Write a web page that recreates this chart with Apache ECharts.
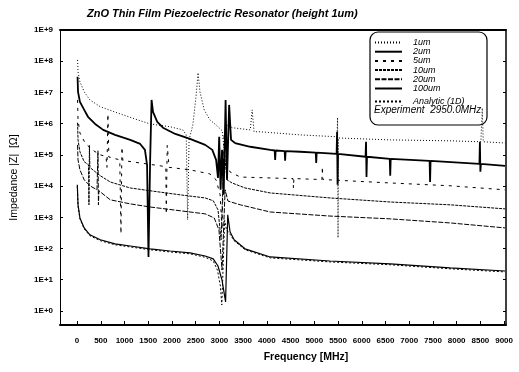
<!DOCTYPE html>
<html>
<head>
<meta charset="utf-8">
<script src="https://cdn.jsdelivr.net/npm/echarts@6/dist/echarts.min.js"></script>
<style>
  html, body { margin: 0; padding: 0; background: #fff; }
  #chart { width: 519px; height: 372px; }
</style>
</head>
<body>
<div id="chart"></div>
<script>
// frequency in MHz, impedance as log10 |Z|
const xTicks = [0, 500, 1000, 1500, 2000, 2500, 3000, 3500, 4000, 4500, 5000, 5500, 6000, 6500, 7000, 7500, 8000, 8500, 9000];
const yTicks = [0, 1, 2, 3, 4, 5, 6, 7, 8, 9];

const f1um = [10, 20, 60, 150, 270, 490, 840, 1220, 1540, 1960, 2230, 2300, 2330, 2360, 2440, 2510, 2550, 2590, 2680, 2800, 2950, 3060, 3100, 3160, 3270, 3650, 3690, 3730, 3860, 4700, 5480, 5490, 5500, 5510, 6600, 7860, 8510, 8540, 8560, 9020];
const z1um = [8.04, 7.66, 7.34, 7.02, 6.76, 6.54, 6.35, 6.15, 5.99, 5.90, 5.80, 5.64, 2.92, 5.48, 5.96, 6.92, 7.63, 7.02, 6.44, 6.12, 5.93, 5.77, 5.16, 5.96, 5.87, 5.80, 6.44, 5.74, 5.74, 5.64, 5.58, 6.19, 2.34, 5.54, 5.48, 5.45, 5.42, 6.50, 5.42, 5.38];

const f2um = [10, 20, 60, 150, 230, 380, 550, 800, 1120, 1330, 1430, 1475, 1505, 1540, 1570, 1600, 1690, 1810, 2070, 2380, 2700, 2850, 2930, 2970, 2995, 3025, 3055, 3090, 3130, 3160, 3205, 3245, 3330, 3650, 4070, 4165, 4175, 4185, 4375, 4385, 4395, 4700, 5030, 5040, 5050, 5470, 5480, 5490, 5500, 6080, 6090, 6100, 6110, 6590, 6600, 6610, 7430, 7440, 7450, 8480, 8490, 8500, 8510, 9020];
const z2um = [7.50, 7.02, 6.70, 6.44, 6.22, 5.99, 5.80, 5.64, 5.48, 5.35, 5.16, 4.68, 1.73, 4.84, 6.76, 6.38, 6.06, 5.87, 5.67, 5.51, 5.32, 5.16, 4.84, 4.26, 5.58, 3.88, 5.16, 3.72, 6.76, 4.20, 6.60, 5.48, 5.38, 5.26, 5.16, 5.14, 4.84, 5.14, 5.12, 4.81, 5.12, 5.10, 5.07, 4.74, 5.07, 5.03, 5.74, 4.04, 5.03, 4.94, 5.42, 4.29, 4.94, 4.87, 4.33, 4.87, 4.81, 4.13, 4.81, 4.71, 5.42, 4.46, 4.71, 4.65];

const f5um = [10, 20, 60, 170, 320, 490, 610, 630, 650, 670, 900, 925, 945, 965, 1330, 1750, 1870, 1880, 1900, 1940, 2380, 2800, 2930, 3015, 3055, 3100, 3160, 3225, 3440, 4070, 4550, 4560, 4570, 5160, 5170, 5180, 6600, 7860, 9020];
const z5um = [6.76, 6.12, 5.70, 5.38, 5.16, 5.00, 4.95, 4.60, 6.31, 4.93, 4.84, 2.47, 5.25, 4.82, 4.74, 4.65, 4.62, 3.10, 5.30, 4.60, 4.52, 4.39, 4.20, 3.72, 2.60, 5.64, 4.68, 4.45, 4.29, 4.26, 4.24, 3.94, 4.24, 4.21, 4.62, 4.21, 4.10, 4.01, 3.88];

const f10um = [10, 20, 60, 150, 240, 250, 260, 270, 380, 490, 700, 1120, 1540, 2170, 2700, 2870, 2970, 3035, 3100, 3160, 3265, 3540, 4070, 5330, 6600, 7860, 9020];
const z10um = [6.03, 5.48, 5.10, 4.78, 4.68, 3.40, 5.30, 4.60, 4.46, 4.33, 4.13, 3.94, 3.85, 3.72, 3.62, 3.53, 3.24, 2.28, 5.16, 4.20, 4.10, 3.94, 3.78, 3.62, 3.49, 3.40, 3.27];

const f20um = [10, 20, 60, 150, 270, 420, 440, 450, 460, 700, 1120, 1540, 2170, 2700, 2890, 2990, 3055, 3120, 3180, 3440, 4070, 5330, 6600, 7860, 9020];
const z20um = [5.32, 4.84, 4.52, 4.20, 4.01, 3.88, 5.13, 3.40, 3.85, 3.56, 3.43, 3.33, 3.21, 3.11, 2.98, 2.60, 1.31, 3.88, 3.52, 3.40, 3.17, 3.04, 2.95, 2.82, 2.66];

const f100um = [5, 20, 60, 150, 270, 490, 800, 1120, 1540, 1960, 2380, 2700, 2870, 2970, 3055, 3130, 3175, 3225, 3310, 3540, 4070, 5330, 6600, 7860, 9020];
const z100um = [4.04, 3.40, 2.98, 2.66, 2.44, 2.28, 2.15, 2.08, 1.99, 1.92, 1.86, 1.76, 1.67, 1.44, 0.99, 0.29, 3.08, 2.53, 2.28, 1.99, 1.73, 1.60, 1.51, 1.38, 1.28];

const fAnalytic = [5, 20, 60, 150, 270, 490, 800, 1120, 1540, 1960, 2380, 2700, 2870, 2960, 3020, 3050, 3080, 3110, 3150, 3225, 3310, 3540, 4070, 5330, 6600, 7860, 9020];
const zAnalytic = [4.00, 3.37, 2.95, 2.63, 2.41, 2.25, 2.12, 2.05, 1.96, 1.89, 1.83, 1.72, 1.60, 1.30, 0.80, 0.19, 1.50, 2.90, 2.60, 2.45, 2.25, 1.96, 1.70, 1.57, 1.48, 1.35, 1.25];

const chart = echarts.init(document.getElementById("chart"));
const FONT = "Liberation Sans";

function line(name, freqs, logs, lineStyle) {
  return {
    name: name,
    type: "line",
    data: freqs.map((f, i) => [f, logs[i]]),
    symbol: "none",
    silent: true,
    lineStyle: Object.assign({ color: "#000", width: 1 }, lineStyle),
    itemStyle: { color: "#000" },
  };
}

const legendText = { fontSize: 9, fontStyle: "italic", fontFamily: FONT, color: "#000", lineHeight: 8, padding: [0, 0, 0, 6] };

const option = {
  animation: false,
  backgroundColor: "#fff",
  title: {
    text: "ZnO Thin Film Piezoelectric Resonator (height 1um)",
    left: 82,
    top: 3,
    textStyle: { fontSize: 11, fontStyle: "italic", fontWeight: "bold", fontFamily: FONT, color: "#000" },
  },
  grid: { left: 60, right: 13, top: 30, bottom: 47, outerBoundsMode: "none" },
  legend: [
    {
      data: ["1um", "2um", "5um", "10um", "20um", "100um"],
      orient: "vertical",
      left: 374,
      top: 38,
      itemWidth: 27,
      itemHeight: 8,
      itemGap: 0.2,
      padding: 0,
      itemStyle: { opacity: 0 },
      textStyle: legendText,
    },
    {
      data: ["Analytic (1D)"],
      orient: "vertical",
      left: 374,
      top: 97,
      itemWidth: 27,
      itemHeight: 8,
      padding: 0,
      itemStyle: { opacity: 0 },
      textStyle: legendText,
    },
  ],
  graphic: [
    {
      type: "rect",
      z: 3,
      shape: { x: 370, y: 32, width: 117, height: 93, r: 8 },
      style: { fill: "#fff", stroke: "#000", lineWidth: 1.2 },
    },
    {
      type: "text",
      z: 5,
      left: 374,
      top: 105,
      style: { text: "Experiment  2950.0MHz", font: "italic 10px " + FONT, fill: "#000" },
    },
  ],
  xAxis: [
    {
      type: "value",
      min: -360,
      max: 9040,
      axisLine: { onZero: false, lineStyle: { color: "#000", width: 2 } },
      axisTick: { inside: true, length: 4, customValues: xTicks, lineStyle: { color: "#000" } },
      axisLabel: {
        customValues: xTicks,
        formatter: (v) => String(v),
        fontSize: 8,
        margin: 12,
        color: "#000",
        fontFamily: FONT,
        fontWeight: "bold",
      },
      splitLine: { show: false },
      name: "Frequency [MHz]",
      nameLocation: "middle",
      nameGap: 27,
      nameTextStyle: { fontSize: 10.5, fontWeight: "bold", fontFamily: FONT, color: "#000", padding: [0, 0, 0, 46] },
    },
    {
      type: "value",
      position: "top",
      min: -360,
      max: 9040,
      axisLine: { onZero: false, lineStyle: { color: "#000", width: 2 } },
      axisTick: { show: false },
      axisLabel: { show: false },
      splitLine: { show: false },
    },
  ],
  yAxis: [
    {
      type: "value",
      min: -0.45,
      max: 9,
      axisLine: { onZero: false, lineStyle: { color: "#000", width: 1 } },
      axisTick: { inside: true, length: 3, customValues: yTicks, lineStyle: { color: "#000" } },
      axisLabel: {
        customValues: yTicks,
        formatter: (v) => "1E+" + Math.round(v),
        fontSize: 8,
        fontWeight: "bold",
        margin: 7,
        color: "#000",
        fontFamily: FONT,
      },
      splitLine: { show: false },
      name: "Impedance |Z|  [\u03A9]",
      nameLocation: "middle",
      nameGap: 40,
      nameTextStyle: { fontSize: 10.5, fontFamily: FONT, color: "#000" },
    },
    {
      type: "value",
      position: "right",
      min: -0.45,
      max: 9,
      axisLine: { onZero: false, lineStyle: { color: "#000", width: 1.5 } },
      axisTick: { inside: true, length: 3, customValues: yTicks, lineStyle: { color: "#000" } },
      axisLabel: { show: false },
      splitLine: { show: false },
    },
  ],
  series: [
    line("1um", f1um, z1um, { type: [1, 2] }),
    line("2um", f2um, z2um, { width: 1.8 }),
    line("5um", f5um, z5um, { type: [3, 5] }),
    line("10um", f10um, z10um, { type: [3, 1] }),
    line("20um", f20um, z20um, { type: [5, 1.5] }),
    line("100um", f100um, z100um, { width: 1.2 }),
    line("Analytic (1D)", fAnalytic, zAnalytic, { type: [2, 2] }),
  ],
};

chart.setOption(option);
</script>
</body>
</html>
